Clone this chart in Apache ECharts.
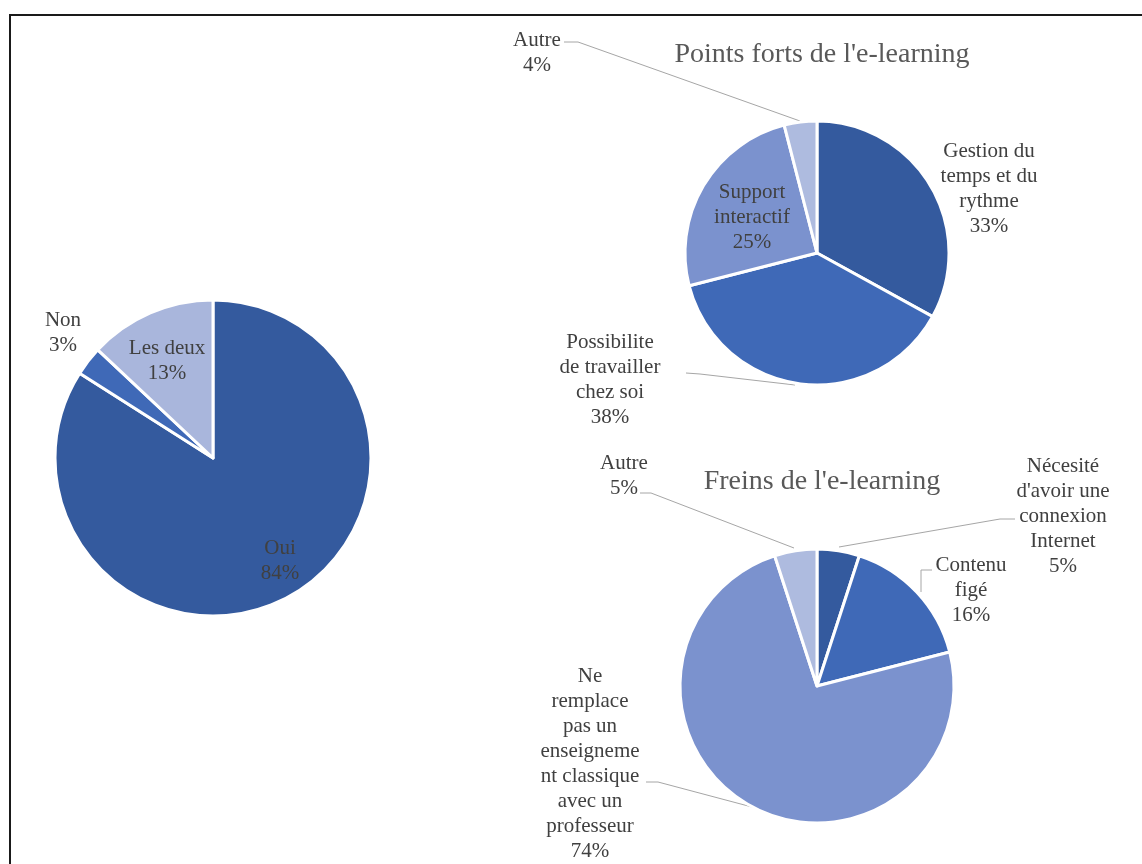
<!DOCTYPE html>
<html>
<head>
<meta charset="utf-8">
<script src="https://cdn.jsdelivr.net/npm/echarts@6/dist/echarts.min.js"></script>
<style>
html,body{margin:0;padding:0;background:#fff;}
#chart{width:1142px;height:864px;}
</style>
</head>
<body>
<div id="chart"></div>
<script>
// ---- Data ----
const pie1Names = ['Oui', 'Non', 'Les deux'];
const pie1Values = [84, 3, 13];

const pie2Title = "Points forts de l'e-learning";
const pie2Names = ['Gestion du\ntemps et du\nrythme', 'Possibilite\nde travailler\nchez soi', 'Support\ninteractif', 'Autre'];
const pie2Values = [33, 38, 25, 4];

const pie3Title = "Freins de l'e-learning";
const pie3Names = ["Nécesité\nd'avoir une\nconnexion\nInternet", 'Contenu\nfigé', 'Ne\nremplace\npas un\nenseigneme\nnt classique\navec un\nprofesseur', 'Autre'];
const pie3Values = [5, 16, 74, 5];

// ---- Layout / style (not data) ----
const COLORS4 = ['#345A9E', '#3F69B7', '#7B92CE', '#AEBBDF'];
const COLORS3 = ['#345A9E', '#3F69B7', '#A9B6DC'];
const FONT = "'Liberation Serif', 'Times New Roman', serif";
const TEXT = '#404040';

// label anchor (center of text block) per slice
const pie1LabelPos = [[280, 561], [63, 333], [167, 361]];
const pie1Inside = [true, false, true];
const pie1Guide = [null, null, null];

const pie2LabelPos = [[989, 189], [610, 380], [752, 217], [537, 53]];
const pie2Inside = [false, false, true, false];
const pie2Guide = [
  null,
  [[795, 385], [700, 374], [686, 373]],
  null,
  [[800, 121], [578, 42], [564, 42]]
];

const pie3LabelPos = [[1063, 516], [971, 590], [590, 764], [624, 476]];
const pie3Inside = [false, false, false, false];
const pie3Guide = [
  [[839, 547], [1000, 519], [1015, 519]],
  [[921, 592], [921, 570], [932, 570]],
  [[752, 807], [658, 782], [646, 782]],
  [[794, 548], [651, 493], [640, 493]]
];

function buildData(names, values, colors, inside, guide) {
  return names.map((n, i) => ({
    name: n,
    value: values[i],
    itemStyle: { color: colors[i] },
    label: { position: inside[i] ? 'inside' : 'outside' },
    labelLine: { show: !!guide[i] }
  }));
}

function layoutFrom(pos, guide) {
  return function (params) {
    const p = pos[params.dataIndex];
    const out = { x: p[0], y: p[1], align: 'center', verticalAlign: 'middle' };
    if (guide[params.dataIndex]) out.labelLinePoints = guide[params.dataIndex];
    return out;
  };
}

function pieSeries(center, radius, names, values, colors, inside, guide, pos) {
  return {
    type: 'pie',
    center: center,
    radius: radius,
    startAngle: 90,
    clockwise: true,
    avoidLabelOverlap: false,
    animation: false,
    itemStyle: { borderColor: '#ffffff', borderWidth: 3 },
    label: {
      show: true,
      formatter: p => p.name + '\n' + Math.round(p.percent) + '%',
      fontFamily: FONT,
      fontSize: 21,
      lineHeight: 25,
      color: TEXT,
      align: 'center'
    },
    labelLine: {
      show: true,
      length: 10,
      length2: 10,
      lineStyle: { color: '#A6A6A6', width: 1 }
    },
    labelLayout: layoutFrom(pos, guide),
    emphasis: { disabled: true },
    data: buildData(names, values, colors, inside, guide)
  };
}

const chart = echarts.init(document.getElementById('chart'), null, { renderer: 'canvas' });
chart.setOption({
  backgroundColor: '#ffffff',
  animation: false,
  title: [
    { text: pie2Title, left: 817, top: 36, textAlign: 'center',
      textStyle: { fontFamily: FONT, fontSize: 28, fontWeight: 'normal', color: '#595959' } },
    { text: pie3Title, left: 817, top: 463, textAlign: 'center',
      textStyle: { fontFamily: FONT, fontSize: 28, fontWeight: 'normal', color: '#595959' } }
  ],
  graphic: [
    { type: 'rect', silent: true, shape: { x: 10, y: 15, width: 1200, height: 900 },
      style: { fill: 'none', stroke: '#1a1a1a', lineWidth: 2 } }
  ],
  series: [
    pieSeries([213, 458], 158, pie1Names, pie1Values, COLORS3, pie1Inside, pie1Guide, pie1LabelPos),
    pieSeries([817, 253], 132, pie2Names, pie2Values, COLORS4, pie2Inside, pie2Guide, pie2LabelPos),
    pieSeries([817, 686], 137, pie3Names, pie3Values, COLORS4, pie3Inside, pie3Guide, pie3LabelPos)
  ]
});
</script>
</body>
</html>
